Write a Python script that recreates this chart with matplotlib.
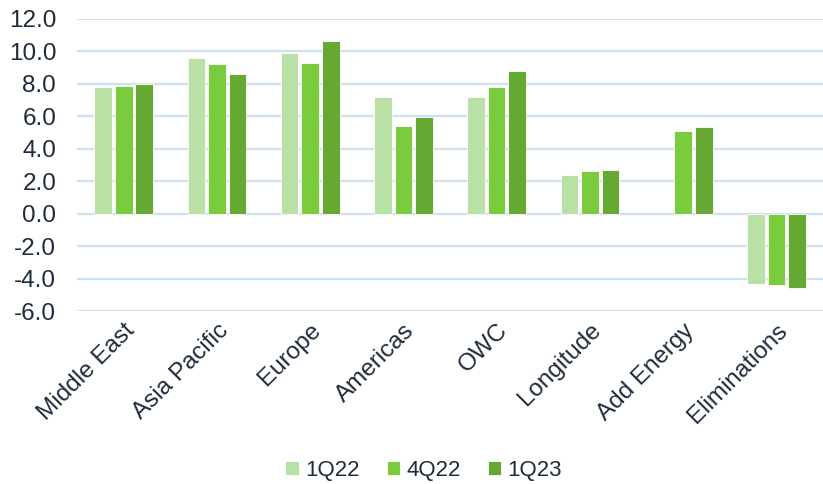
import matplotlib.pyplot as plt
import numpy as np

plt.rcParams["font.family"] = ["Liberation Sans", "DejaVu Sans"]

categories = ["Middle East", "Asia Pacific", "Europe", "Americas", "OWC",
              "Longitude", "Add Energy", "Eliminations"]
series = ["1Q22", "4Q22", "1Q23"]
q1_22 = [7.8, 9.62, 9.87, 7.2, 7.22, 2.38, np.nan, -4.33]
q4_22 = [7.86, 9.24, 9.27, 5.42, 7.8, 2.66, 5.12, -4.37]
q1_23 = [8.02, 8.58, 10.62, 5.95, 8.78, 2.7, 5.32, -4.60]
yticks = [-6, -4, -2, 0, 2, 4, 6, 8, 10, 12]

colors = ["#B9E1A6", "#7ACC3E", "#65A832"]
text_color = "#1E2B3A"
grid_color = "#CFE0F0"

fig = plt.figure(figsize=(8.23, 4.84), dpi=100)
ax = fig.add_axes([0.0936, 0.357, 0.9064, 0.604])

x = np.arange(len(categories))
step = 0.22
for i, (vals, name) in enumerate(zip([q1_22, q4_22, q1_23], series)):
    ax.bar(x + (i - 1) * step, vals, width=0.19, color=colors[i],
           edgecolor="white", linewidth=0.6, label=name, zorder=3)

ax.set_xlim(-0.5, len(categories) - 0.5)
ax.set_ylim(-6, 12)
ax.set_yticks(yticks)
ax.set_yticklabels([f"{v:.1f}" for v in yticks])
ax.yaxis.grid(True, color=grid_color, linewidth=1.6, zorder=0)
ax.set_axisbelow(True)
for s in ax.spines.values():
    s.set_visible(False)
ax.tick_params(axis="both", length=0, labelsize=17.5, colors=text_color)
ax.tick_params(axis="y", pad=15)
ax.set_xticks(x)
ax.set_xticklabels(categories, rotation=45, ha="right", rotation_mode="anchor")
ax.tick_params(axis="x", pad=6)

fig.legend(loc="center", bbox_to_anchor=(0.515, 0.028), ncol=3, frameon=False,
           fontsize=16, handlelength=0.6, handleheight=0.6, handletextpad=0.3,
           columnspacing=1.2, labelcolor=text_color)

fig.savefig("out.png", dpi=100)
